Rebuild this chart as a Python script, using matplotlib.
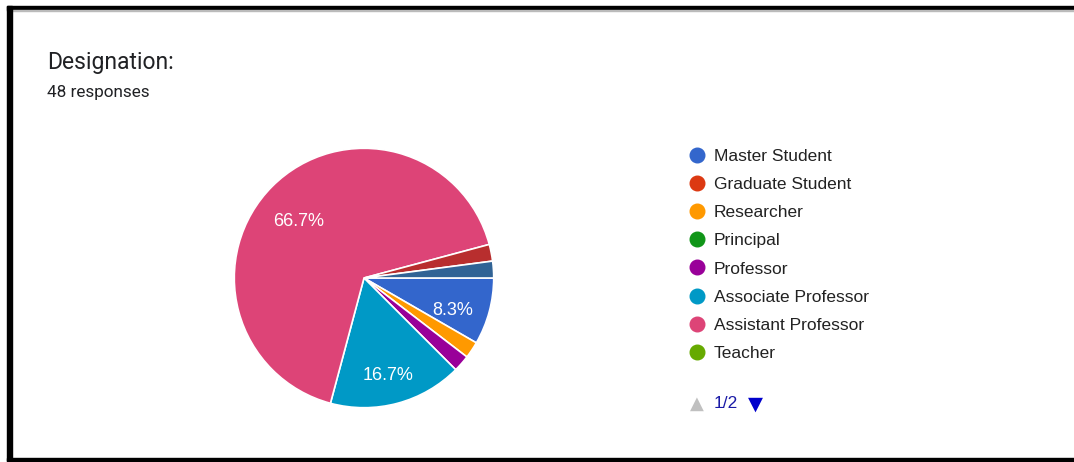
import matplotlib.pyplot as plt
from matplotlib.lines import Line2D
from matplotlib.patches import Rectangle

# legend page 1 categories + the two page-2 categories that appear in the pie
categories = ["Master Student", "Graduate Student", "Researcher", "Principal",
              "Professor", "Associate Professor", "Assistant Professor", "Teacher",
              "Page 2 item 1", "Page 2 item 2"]
counts = [4, 0, 1, 0, 1, 8, 32, 0, 1, 1]
colors = ["#3366cc", "#dc3912", "#ff9900", "#109618", "#990099",
          "#0099c6", "#dd4477", "#66aa00", "#b82e2e", "#316395"]
legend_shown = 8
total = 48

W, H = 1074, 462
fig = plt.figure(figsize=(W / 100, H / 100), dpi=100)
fig.patch.set_facecolor("white")

# pie: drop empty slices, google order clockwise from 3 o'clock
vals = [c for c in counts if c > 0]
cols = [colors[i] for i, c in enumerate(counts) if c > 0]

cx, cy, r = 364, 278, 131
ax = fig.add_axes([(cx - r) / W, (H - cy - r) / H, 2 * r / W, 2 * r / H])


def pct(p):
    return "%.1f%%" % p if p > 5 else ""


wedges, texts, autotexts = ax.pie(
    vals, colors=cols, startangle=0, counterclock=False,
    autopct=pct, pctdistance=0.71,
    wedgeprops=dict(edgecolor="white", linewidth=1.2),
    textprops=dict(color="white", fontsize=13, family="Liberation Sans"))
for t in autotexts:
    t.set_va("top")
ax.set_xlim(-1.01, 1.01)
ax.set_ylim(-1.01, 1.01)
ax.set_aspect("equal")
ax.axis("off")

# title
fig.text(47 / W, 1 - 62 / H, "Designation:", fontsize=16.5, color="#202124",
         family="Roboto", va="center")
fig.text(47 / W, 1 - 92 / H, "48 responses", fontsize=12.3, color="#202124",
         family="Roboto", va="center")

# legend (page 1/2)
handles = [Line2D([], [], marker="o", linestyle="", markersize=10.5,
                  markerfacecolor=colors[i], markeredgecolor=colors[i])
           for i in range(legend_shown)]
leg = fig.legend(handles, categories[:legend_shown], loc="upper left",
                 bbox_to_anchor=(688 / W, 1 - 149 / H), frameon=False,
                 prop=dict(family="Liberation Sans", size=12.5),
                 labelspacing=0.745, handletextpad=0.5, handlelength=1.0,
                 borderpad=0, borderaxespad=0)
for t in leg.get_texts():
    t.set_color("#222222")

fig.text(697 / W, 1 - 404 / H, "\u25b2", fontsize=13, color="#c0c0c0",
         ha="center", va="center", family="DejaVu Sans")
fig.text(714 / W, 1 - 404 / H, "1/2", fontsize=12.5, color="#1a1aa6",
         ha="left", va="center", family="Liberation Sans")
fig.text(755 / W, 1 - 404 / H, "\u25bc", fontsize=14, color="#0000cc",
         ha="center", va="center", family="DejaVu Sans")

# screenshot frame
fig.patches.append(Rectangle((7 / W, 1 - 10 / H), 1 - 7 / W, 4 / H,
                             transform=fig.transFigure, color="black"))
fig.patches.append(Rectangle((7 / W, 1 - 11 / H), 1 - 7 / W, 1 / H,
                             transform=fig.transFigure, color="#bbbbbb"))
fig.patches.append(Rectangle((7 / W, 1 - 461 / H), 5 / W, 455 / H,
                             transform=fig.transFigure, color="black"))
fig.patches.append(Rectangle((7 / W, 1 - 461 / H), 1 - 7 / W, 3 / H,
                             transform=fig.transFigure, color="black"))

fig.savefig("out.png", dpi=100)
